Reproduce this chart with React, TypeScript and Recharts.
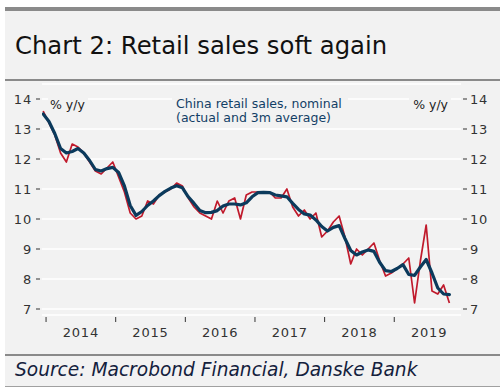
import React from "react";
import { LineChart, Line, XAxis, YAxis, CartesianGrid } from "recharts";

// Monthly data, Dec 2013 .. Oct 2019 (% y/y)
const firstMonthOffset = -1; // Dec 2013 = month -1 relative to Jan 2014
const actual: number[] = [
  13.6,
  13.2, 12.8, 12.2, 11.9, 12.5, 12.4, 12.2, 11.9, 11.6, 11.5, 11.7, 11.9,
  11.4, 10.9, 10.2, 10.0, 10.1, 10.6, 10.5, 10.8, 10.9, 11.0, 11.2, 11.1,
  10.7, 10.4, 10.2, 10.1, 10.0, 10.6, 10.2, 10.6, 10.7, 10.0, 10.8, 10.9,
  10.9, 10.9, 10.9, 10.7, 10.7, 11.0, 10.4, 10.1, 10.3, 10.0, 10.2, 9.4,
  9.6, 9.9, 10.1, 9.4, 8.5, 9.0, 8.8, 9.0, 9.2, 8.6, 8.1, 8.2,
  8.35, 8.5, 8.7, 7.2, 8.6, 9.8, 7.6, 7.5, 7.8, 7.2,
];
const avg3m: number[] = [
  13.5,
  13.25, 12.85, 12.35, 12.2, 12.25, 12.35, 12.2, 11.95, 11.65, 11.6, 11.68, 11.72,
  11.55, 11.1, 10.45, 10.12, 10.25, 10.45, 10.6, 10.78, 10.92, 11.03, 11.11, 11.04,
  10.74, 10.52, 10.28, 10.21, 10.22, 10.28, 10.43, 10.5, 10.5, 10.47, 10.54, 10.74,
  10.88, 10.89, 10.88, 10.8, 10.77, 10.74, 10.52, 10.32, 10.17, 10.13, 9.97, 9.75,
  9.6, 9.72, 9.78, 9.35, 8.95, 8.8, 8.9, 8.97, 8.92, 8.55, 8.28, 8.25,
  8.35, 8.48, 8.15, 8.12, 8.4, 8.65, 8.2, 7.7, 7.5, 7.48,
];
const years: string[] = ["2014", "2015", "2016", "2017", "2018", "2019"];
const yTicks: number[] = [7, 8, 9, 10, 11, 12, 13, 14];

const data = actual.map((v, i) => ({
  t: firstMonthOffset + i + 0.5,
  actual: v,
  avg: avg3m[i],
}));

// x ticks: year starts (tick marks) and mid-years (labels)
const xTicks: number[] = [];
years.forEach((_, i) => {
  xTicks.push(i * 12);
  xTicks.push(i * 12 + 6);
});

const FONT = "'DejaVu Sans', sans-serif";
const AXIS_COLOR = "#333";

const LeftTick = (props: any) => {
  const { x, y, payload } = props;
  return (
    <g>
      <line x1={x - 6} x2={x - 2} y1={y} y2={y} stroke={AXIS_COLOR} strokeWidth={1} />
      <text x={x - 10} y={y + 4.5} textAnchor="end" fontSize={13} letterSpacing={0.8} fill={AXIS_COLOR} fontFamily={FONT}>
        {payload.value}
      </text>
    </g>
  );
};

const RightTick = (props: any) => {
  const { x, y, payload } = props;
  return (
    <g>
      <line x1={x + 2} x2={x + 6} y1={y} y2={y} stroke={AXIS_COLOR} strokeWidth={1} />
      <text x={x + 9} y={y + 4.5} textAnchor="start" fontSize={13} letterSpacing={0.8} fill={AXIS_COLOR} fontFamily={FONT}>
        {payload.value}
      </text>
    </g>
  );
};

const BottomTick = (props: any) => {
  const { x, y, payload } = props;
  const v = payload.value as number;
  if (v % 12 === 0) {
    return <line x1={x} x2={x} y1={y + 2} y2={y + 7} stroke={AXIS_COLOR} strokeWidth={1} />;
  }
  const label = years[Math.floor(v / 12)];
  return (
    <text x={x} y={y + 22} textAnchor="middle" fontSize={13} letterSpacing={0.8} fill={AXIS_COLOR} fontFamily={FONT}>
      {label}
    </text>
  );
};

export default function App() {
  return (
    <div style={{ position: "absolute", left: 0, top: 0, width: 503, height: 391, background: "#fff", fontFamily: FONT }}>
      <svg width={503} height={391} style={{ position: "absolute", left: 0, top: 0 }}>
        <rect x={5} y={11} width={495} height={375} fill="#f2f2f2" />
        <rect x={5} y={7} width={495} height={4} fill="#8a8a8a" />
        <rect x={5} y={79} width={495} height={2} fill="#8a8a8a" />
        <rect x={5} y={354} width={495} height={2} fill="#8a8a8a" />
        <rect x={5} y={386} width={495} height={1} fill="#a0a0a0" />
        <text x={15} y={54} fontSize={24.3} fill="#111" fontFamily={FONT}>
          Chart 2: Retail sales soft again
        </text>
        <text x={15} y={376} fontSize={18.6} fontStyle="italic" fill="#14213d" fontFamily={FONT}>
          Source: Macrobond Financial, Danske Bank
        </text>
      </svg>
      <div style={{ position: "absolute", left: 0, top: 81, width: 503, height: 274 }}>
        <LineChart width={503} height={274} data={data} margin={{ top: 3, right: 0, bottom: 0, left: 0 }}>
          <CartesianGrid yAxisId="left" horizontal vertical={false} stroke="#ffffff" strokeWidth={1.3} />
          <XAxis
            dataKey="t"
            type="number"
            domain={[-0.7, 71.5]}
            allowDataOverflow
            ticks={xTicks}
            interval={0}
            tick={<BottomTick />}
            tickLine={false}
            axisLine={false}
            tickSize={0}
            tickMargin={0}
            height={40}
          />
          <YAxis
            yAxisId="left"
            orientation="left"
            domain={[6.8, 14.5]}
            ticks={yTicks}
            interval={0}
            allowDataOverflow
            width={42}
            tick={<LeftTick />}
            tickLine={false}
            axisLine={false}
            tickSize={0}
            tickMargin={0}
          />
          <YAxis
            yAxisId="right"
            orientation="right"
            domain={[6.8, 14.5]}
            ticks={yTicks}
            interval={0}
            allowDataOverflow
            width={42}
            tick={<RightTick />}
            tickLine={false}
            axisLine={false}
            tickSize={0}
            tickMargin={0}
          />
          <Line yAxisId="left" type="linear" dataKey="actual" stroke="#c01a2c" strokeWidth={1.7} dot={false} isAnimationActive={false} strokeLinejoin="round" />
          <Line yAxisId="left" type="linear" dataKey="avg" stroke="#0b3a5c" strokeWidth={3.2} dot={false} isAnimationActive={false} strokeLinejoin="round" strokeLinecap="round" />
        </LineChart>
      </div>
      <svg width={503} height={391} style={{ position: "absolute", left: 0, top: 0, pointerEvents: "none" }}>
        <rect x={172} y={94} width={176} height={32} fill="#f2f2f2" />
        <rect x={48} y={97} width={40} height={15} fill="#f2f2f2" />
        <rect x={409} y={97} width={42} height={15} fill="#f2f2f2" />
        <text x={176} y={107.5} fontSize={12.5} fill="#123f66" fontFamily={FONT}>
          China retail sales, nominal
        </text>
        <text x={176} y={122} fontSize={12.5} fill="#123f66" fontFamily={FONT}>
          (actual and 3m average)
        </text>
        <text x={50} y={108.5} fontSize={12.5} fill="#222" fontFamily={FONT}>
          % y/y
        </text>
        <text x={448} y={108.5} fontSize={12.5} textAnchor="end" fill="#222" fontFamily={FONT}>
          % y/y
        </text>
      </svg>
    </div>
  );
}
